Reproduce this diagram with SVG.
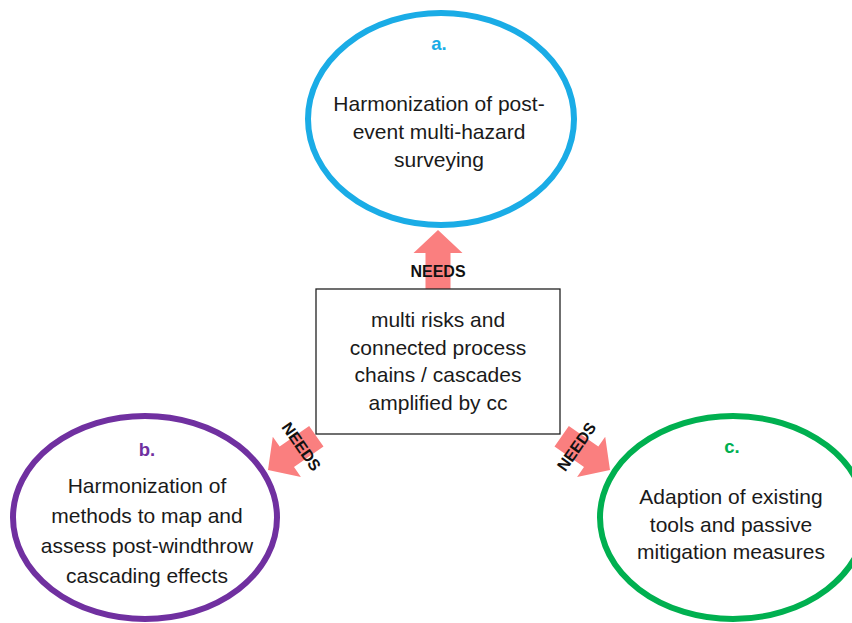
<svg xmlns="http://www.w3.org/2000/svg" width="852" height="623" viewBox="0 0 852 623">
<defs>
<style>
.txt{font-family:"Liberation Sans",Arial,sans-serif;font-size:21px;fill:#1a1a1a;text-anchor:middle}
.lbl{font-family:"Liberation Sans",Arial,sans-serif;font-size:18.5px;font-weight:bold;text-anchor:middle}
.needs{font-family:"Liberation Sans",Arial,sans-serif;font-size:16px;font-weight:bold;fill:#111;text-anchor:middle}
.arrow{fill:#FA7F7F}
.ell{fill:#fff;stroke-width:6}
</style>
<path id="arr" d="M0,0 L24.5,23 L12.5,23 L12.5,59 L-12.5,59 L-12.5,23 L-24.5,23 Z"/>
</defs>
<rect width="852" height="623" fill="#fff"/>
<g id="node-a">
<ellipse class="ell" cx="441" cy="119" rx="133" ry="106" stroke="#1AACE6"/>
<text class="lbl" x="439" y="50" fill="#1AACE6">a.</text>
<text class="txt" x="439" y="111">Harmonization of post-</text>
<text class="txt" x="439" y="139">event multi-hazard</text>
<text class="txt" x="439" y="167">surveying</text>
</g>
<g id="node-b">
<ellipse class="ell" cx="145" cy="517.5" rx="132" ry="101.5" stroke="#7030A0"/>
<text class="lbl" x="147" y="456" fill="#7030A0">b.</text>
<text class="txt" x="147" y="492.5">Harmonization of</text>
<text class="txt" x="147" y="522.5">methods to map and</text>
<text class="txt" x="147" y="553">assess post-windthrow</text>
<text class="txt" x="147" y="583">cascading effects</text>
</g>
<g id="node-c">
<ellipse class="ell" cx="733" cy="517.5" rx="133" ry="101.5" stroke="#00B050"/>
<text class="lbl" x="732" y="453" fill="#00B050">c.</text>
<text class="txt" x="731" y="504">Adaption of existing</text>
<text class="txt" x="731" y="531.5">tools and passive</text>
<text class="txt" x="731" y="559">mitigation measures</text>
</g>
<g id="connectors">
<use href="#arr" class="arrow" transform="translate(438,230)"/>
<use href="#arr" class="arrow" transform="translate(268,470) rotate(235)"/>
<use href="#arr" class="arrow" transform="translate(610,470) rotate(125)"/>
<text class="needs" transform="translate(438,271)" y="5.7">NEEDS</text>
<text class="needs" transform="translate(301.6,446.5) rotate(55)" y="5.7">NEEDS</text>
<text class="needs" transform="translate(576.4,446.5) rotate(-55)" y="5.7">NEEDS</text>
</g>
<g id="node-center">
<rect x="316" y="289" width="244" height="145" fill="#fff" stroke="#222" stroke-width="1.3"/>
<text class="txt" x="438" y="327">multi risks and</text>
<text class="txt" x="438" y="354.5">connected process</text>
<text class="txt" x="438" y="382">chains / cascades</text>
<text class="txt" x="438" y="410">amplified by cc</text>
</g>
</svg>
